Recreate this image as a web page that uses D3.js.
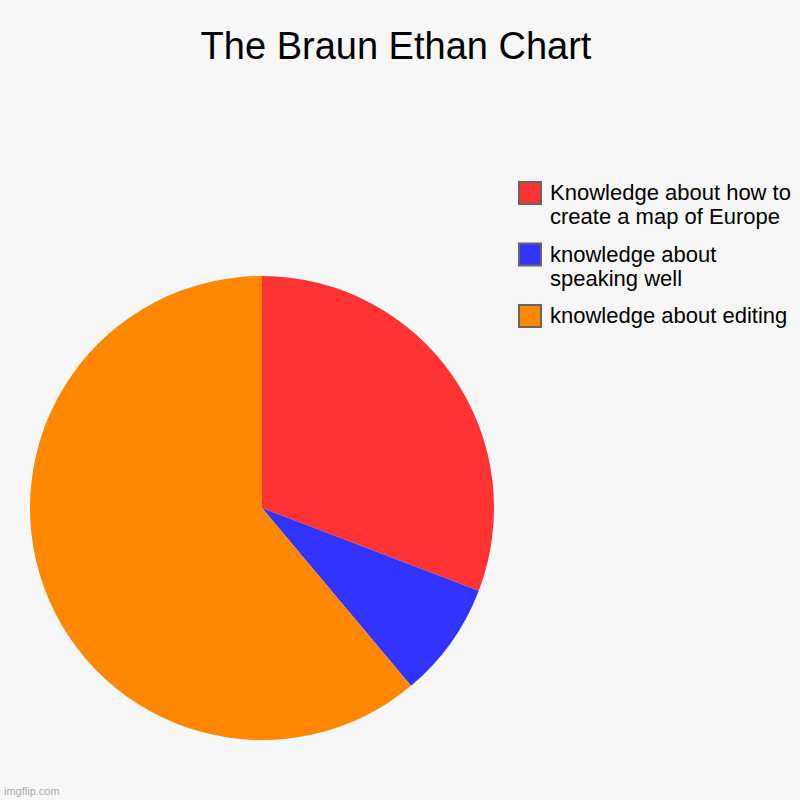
<!DOCTYPE html>
<html>
<head>
<meta charset="utf-8">
<script src="https://cdn.jsdelivr.net/npm/d3@7"></script>
<style>
  body { margin: 0; background: #f7f7f7; }
  svg { display: block; font-family: "Liberation Sans", Arial, sans-serif; }
</style>
</head>
<body>
<div class="chart"></div>
<script>
// chart data (shares, in percent)
var labels = ["Knowledge about how to create a map of Europe", "knowledge about speaking well", "knowledge about editing"];
var legendLines = [["Knowledge about how to", "create a map of Europe"], ["knowledge about", "speaking well"], ["knowledge about editing"]];
var values = [30.8, 8.1, 61.1];
var colors = ["#ff3333", "#3333ff", "#ff8800"];

var svgWidth = 800;
var svgHeight = 800;

var svg = d3.select(".chart")
  .append("svg")
  .attr("width", svgWidth)
  .attr("height", svgHeight);

svg.append("rect")
  .attr("width", svgWidth)
  .attr("height", svgHeight)
  .attr("fill", "#f7f7f7");

// title
svg.append("text")
  .attr("x", 396)
  .attr("y", 59)
  .attr("text-anchor", "middle")
  .attr("font-size", "38px")
  .attr("fill", "#000")
  .text("The Braun Ethan Chart");

// pie
var radius = 232;
var pieGroup = svg.append("g")
  .attr("transform", "translate(262, 508)");

var pie = d3.pie().sort(null).value(d => d);
var arc = d3.arc().innerRadius(0).outerRadius(radius);

pieGroup.selectAll("path")
  .data(pie(values))
  .enter()
  .append("path")
  .attr("d", arc)
  .attr("fill", (d, i) => colors[i]);

// legend
var legend = svg.append("g")
  .attr("transform", "translate(519, 182)");

var items = legend.selectAll("g")
  .data(labels)
  .enter()
  .append("g")
  .attr("transform", (d, i) => `translate(0, ${i * 61.5})`);

items.append("rect")
  .attr("width", 22)
  .attr("height", 22)
  .attr("fill", (d, i) => colors[i])
  .attr("stroke", "#666")
  .attr("stroke-width", 2);

items.append("text")
  .attr("x", 31)
  .attr("y", 18)
  .attr("font-size", "22px")
  .attr("fill", "#000")
  .selectAll("tspan")
  .data((d, i) => legendLines[i])
  .enter()
  .append("tspan")
  .attr("x", 31)
  .attr("dy", (d, j) => j === 0 ? 0 : 24)
  .text(d => d);

// watermark
svg.append("text")
  .attr("x", 4)
  .attr("y", 795)
  .attr("font-size", "11px")
  .attr("fill", "#aaa")
  .text("imgflip.com");
</script>
</body>
</html>
